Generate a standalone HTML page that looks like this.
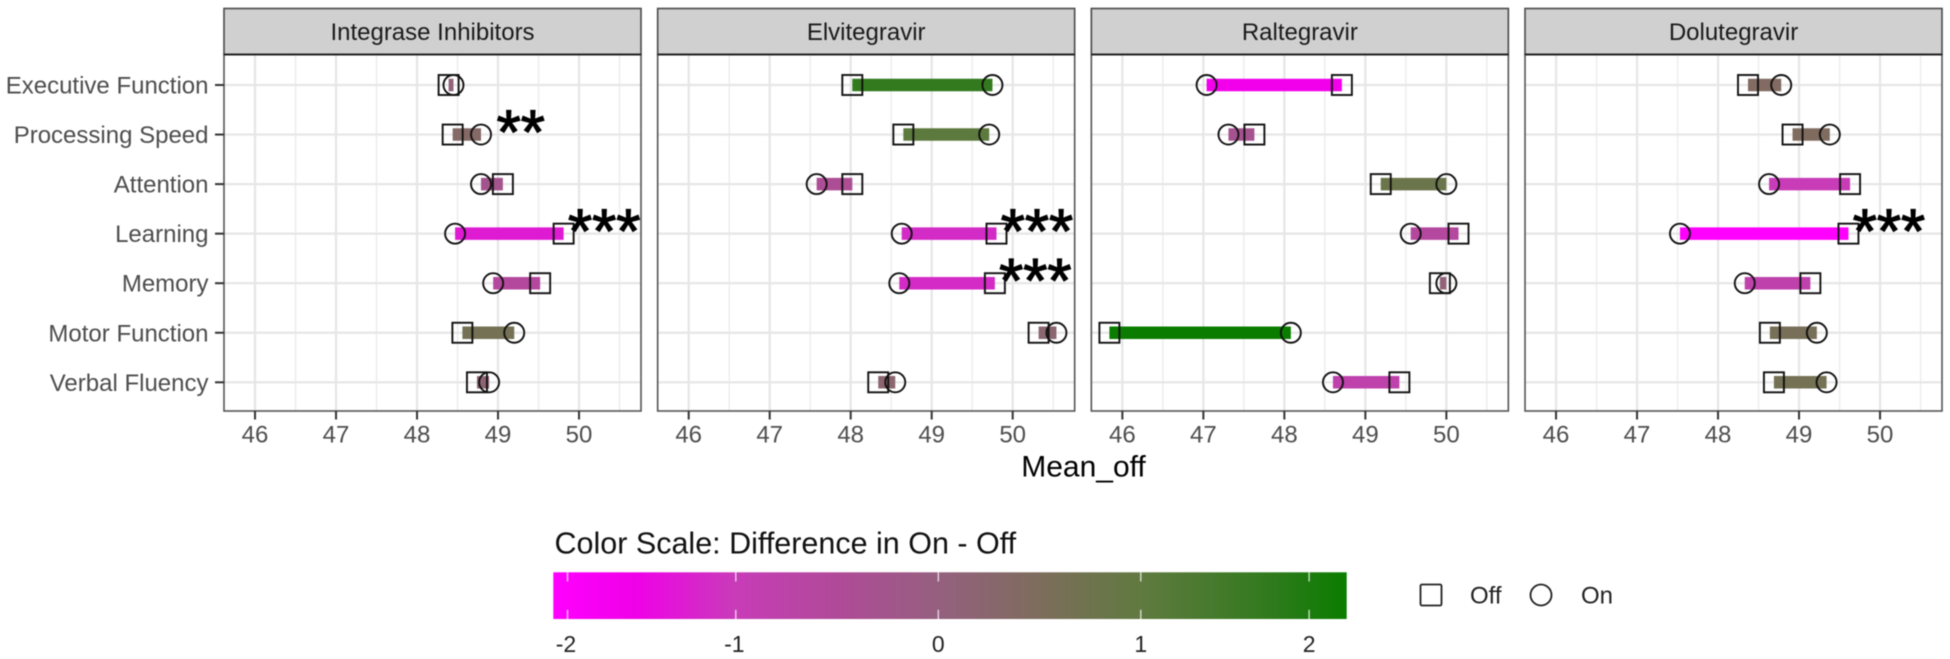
<!DOCTYPE html>
<html lang="en">
<head>
<meta charset="utf-8">
<title>Mean_off by cognitive domain and integrase inhibitor</title>
<style>
html,body{margin:0;padding:0;background:#fff;}
body{width:1950px;height:659px;overflow:hidden;}
svg{display:block;font-family:"Liberation Sans",Arial,sans-serif;filter:blur(0.5px);}
</style>
</head>
<body>
<svg id="chart" xmlns="http://www.w3.org/2000/svg" width="1950" height="659" viewBox="0 0 1950 659">
  <defs>
    <linearGradient id="legend-gradient" gradientUnits="userSpaceOnUse" x1="553.3" y1="0" x2="1346.7" y2="0"></linearGradient>
  </defs>
  <rect x="0" y="0" width="1950" height="659" fill="#ffffff"/>
  <g id="panels"></g>
  <text x="1083.5" y="476.5" font-size="30" text-anchor="middle" fill="#000">Mean_off</text>
  <g id="legend">
    <text x="554.5" y="553.5" font-size="30.5" fill="#111">Color Scale: Difference in On - Off</text>
    <rect x="553.3" y="572.3" width="793.4" height="46.7" fill="url(#legend-gradient)"/>
  </g>
  <g id="shape-legend">
    <rect x="1420.5" y="584.5" width="21" height="21" rx="1.5" fill="none" stroke="#222" stroke-width="1.8"/>
    <text x="1470" y="603.5" font-size="24" fill="#222">Off</text>
    <circle cx="1541" cy="595" r="10.5" fill="none" stroke="#222" stroke-width="1.8"/>
    <text x="1581" y="603.5" font-size="24" fill="#222">On</text>
  </g>
</svg>
<script>
var panelNames = ["Integrase Inhibitors", "Elvitegravir", "Raltegravir", "Dolutegravir"];
var categories = ["Executive Function", "Processing Speed", "Attention", "Learning", "Memory", "Motor Function", "Verbal Fluency"];
var xTicks = [46, 47, 48, 49, 50];
var xMinorTicks = [46.5, 47.5, 48.5, 49.5, 50.5];
var offIntegrase = [48.39, 48.44, 49.06, 49.81, 49.52, 48.56, 48.74];
var onIntegrase = [48.45, 48.79, 48.79, 48.47, 48.94, 49.20, 48.89];
var offElvitegravir = [48.02, 48.65, 48.02, 49.80, 49.78, 50.32, 48.34];
var onElvitegravir = [49.75, 49.71, 47.58, 48.63, 48.60, 50.54, 48.55];
var offRaltegravir = [48.71, 47.63, 49.19, 50.15, 49.92, 45.84, 49.42];
var onRaltegravir = [47.04, 47.31, 50.00, 49.56, 50.00, 48.08, 48.60];
var offDolutegravir = [48.37, 48.92, 49.63, 49.61, 49.14, 48.64, 48.69];
var onDolutegravir = [48.78, 49.38, 48.63, 47.53, 48.33, 49.22, 49.34];
var starPanels = [0, 0, 1, 1, 3];
var starCategories = ["Processing Speed", "Learning", "Learning", "Memory", "Learning"];
var starValues = [49.28, 50.31, 50.30, 50.28, 50.11];
var starLabels = ["**", "***", "***", "***", "***"];
var legendTicks = [-2, -1, 0, 1, 2];
var colorValues = [-2.08, -1.6, -1, -0.5, 0, 0.5, 1, 1.7, 2.24];
var colorHexes = ["#ff00ff", "#f000e8", "#c83cb8", "#b04a98", "#95607f", "#7d6d5c", "#607a40", "#357a20", "#0a7d00"];

var offSeries = [offIntegrase, offElvitegravir, offRaltegravir, offDolutegravir];
var onSeries = [onIntegrase, onElvitegravir, onRaltegravir, onDolutegravir];

var NS = "http://www.w3.org/2000/svg";
var PANEL_LEFT0 = 224, PANEL_STEP = 433.67, PANEL_W = 417;
var STRIP_TOP = 8.5, PANEL_TOP = 54.5, PANEL_BOTTOM = 411;
var X_MIN = 45.617, PX_PER_UNIT = 81;
var ROW0 = 85, ROW_STEP = 49.55;

function panelLeft(i) { return PANEL_LEFT0 + i * PANEL_STEP; }
function xScale(i, v) { return panelLeft(i) + (v - X_MIN) * PX_PER_UNIT; }
function yScale(cat) { return ROW0 + categories.indexOf(cat) * ROW_STEP; }
function legendX(v) {
  var a = Math.abs(v), d = a <= 1 ? 202.5 * a : 202.5 + 168.3 * (a - 1);
  return 938.3 + (v < 0 ? -d : d);
}
function hexToRgb(h) {
  return [parseInt(h.substr(1, 2), 16), parseInt(h.substr(3, 2), 16), parseInt(h.substr(5, 2), 16)];
}
function colorScale(v) {
  var n = colorValues.length;
  if (v <= colorValues[0]) return colorHexes[0];
  if (v >= colorValues[n - 1]) return colorHexes[n - 1];
  for (var i = 1; i < n; i++) {
    if (v <= colorValues[i]) {
      var t = (v - colorValues[i - 1]) / (colorValues[i] - colorValues[i - 1]);
      var a = hexToRgb(colorHexes[i - 1]), b = hexToRgb(colorHexes[i]);
      return "rgb(" + Math.round(a[0] + (b[0] - a[0]) * t) + "," + Math.round(a[1] + (b[1] - a[1]) * t) + "," + Math.round(a[2] + (b[2] - a[2]) * t) + ")";
    }
  }
}
function make(tag, parent, attrs, text) {
  var e = document.createElementNS(NS, tag);
  for (var k in attrs) e.setAttribute(k, attrs[k]);
  if (text !== undefined) e.textContent = text;
  parent.appendChild(e);
  return e;
}

var root = document.getElementById("panels");

panelNames.forEach(function (name, p) {
  var L = panelLeft(p), R = L + PANEL_W;
  var g = make("g", root, {});
  
  

  xMinorTicks.forEach(function (t) {
    var x = xScale(p, t);
    var e = make("line", g, { x1: x, x2: x, y1: PANEL_TOP, y2: PANEL_BOTTOM, stroke: "#ececec", "stroke-width": 1.4 });
    
    
  });
  xTicks.forEach(function (t) {
    var x = xScale(p, t);
    var e = make("line", g, { x1: x, x2: x, y1: PANEL_TOP, y2: PANEL_BOTTOM, stroke: "#e6e6e6", "stroke-width": 2.2 });
    
    
  });
  categories.forEach(function (c) {
    var y = yScale(c);
    var e = make("line", g, { x1: L, x2: R, y1: y, y2: y, stroke: "#e6e6e6", "stroke-width": 2.2 });
    
    
  });

  categories.forEach(function (c, r) {
    var off = offSeries[p][r], on = onSeries[p][r], y = yScale(c);
    var bar = make("line", g, { x1: xScale(p, off), x2: xScale(p, on), y1: y, y2: y, stroke: colorScale(on - off), "stroke-width": 12.5 });
    
    
  });
  categories.forEach(function (c, r) {
    var off = offSeries[p][r], on = onSeries[p][r], y = yScale(c);
    var sq = make("rect", g, { x: xScale(p, off) - 10, y: y - 10, width: 20, height: 20, fill: "none", stroke: "#111", "stroke-width": 1.9 });
    
    
    var ci = make("circle", g, { cx: xScale(p, on), cy: y, r: 10, fill: "none", stroke: "#111", "stroke-width": 1.9 });
    
    
  });

  var border = make("rect", g, { x: L, y: PANEL_TOP, width: PANEL_W, height: PANEL_BOTTOM - PANEL_TOP, fill: "none", stroke: "#555", "stroke-width": 1.6 });
  
  

  var strip = make("rect", g, { x: L, y: STRIP_TOP, width: PANEL_W, height: PANEL_TOP - STRIP_TOP, fill: "#d0d0d0", stroke: "#4a4a4a", "stroke-width": 1.6 });
  
  
  var rule = make("line", g, { x1: L, x2: R, y1: PANEL_TOP, y2: PANEL_TOP, stroke: "#222", "stroke-width": 2 });
  
  
  var stripText = make("text", g, { x: L + PANEL_W / 2, y: 40, "font-size": 24, "text-anchor": "middle", fill: "#1a1a1a" }, name);
  
  

  xTicks.forEach(function (t) {
    var x = xScale(p, t);
    var tick = make("line", g, { x1: x, x2: x, y1: PANEL_BOTTOM, y2: 419.5, stroke: "#333", "stroke-width": 2 });
    
    
    var lab = make("text", g, { x: x, y: 442.7, "font-size": 24, "text-anchor": "middle", fill: "#4d4d4d" }, String(t));
    
    
  });
});

categories.forEach(function (c) {
  var y = yScale(c);
  var tick = make("line", root, { x1: 215, x2: PANEL_LEFT0, y1: y, y2: y, stroke: "#333", "stroke-width": 2 });
  
  
  var lab = make("text", root, { x: 208.5, y: y + 8.5, "font-size": 24, "text-anchor": "end", fill: "#4d4d4d" }, c);
  
  
});

starLabels.forEach(function (s, i) {
  var t = make("text", root, { x: xScale(starPanels[i], starValues[i]), y: yScale(starCategories[i]) + 19, "font-size": 62, "text-anchor": "middle", fill: "#000", stroke: "#000", "stroke-width": 1.2 }, s);
  
  
});

var grad = document.getElementById("legend-gradient");
colorValues.forEach(function (v, i) {
  var offset = (legendX(v) - 553.3) / 793.4;
  make("stop", grad, { offset: Math.max(0, Math.min(1, offset)), "stop-color": colorHexes[i] });
});

var legend = document.getElementById("legend");
legendTicks.forEach(function (v) {
  var x = legendX(v);
  var top = make("line", legend, { x1: x, x2: x, y1: 572.3, y2: 581.5, stroke: "#ffffff", "stroke-opacity": 0.75, "stroke-width": 1.4 });
  
  
  var bot = make("line", legend, { x1: x, x2: x, y1: 609.8, y2: 619, stroke: "#ffffff", "stroke-opacity": 0.75, "stroke-width": 1.4 });
  
  
  var lab = make("text", legend, { x: x - (v < 0 ? 1.5 : 0), y: 652, "font-size": 23, "text-anchor": "middle", fill: "#222" }, String(v));
  
  
});
</script>
</body>
</html>
